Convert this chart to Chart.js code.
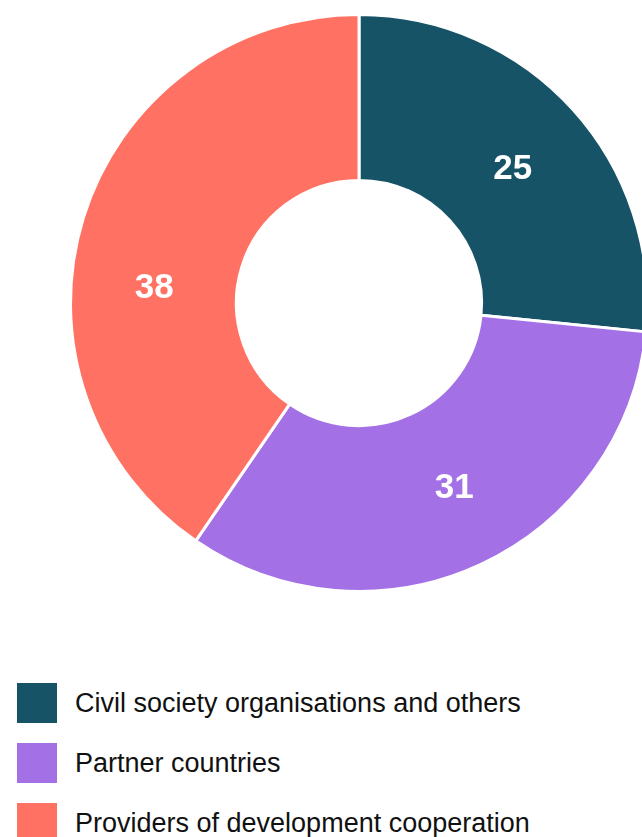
<!DOCTYPE html>
<html>
<head>
<meta charset="utf-8">
<script src="https://cdn.jsdelivr.net/npm/chart.js@4"></script>
<style>
  html, body { margin: 0; padding: 0; background: #fff; overflow: hidden; }
  body { width: 642px; height: 837px; position: relative; }
  #wrap { position: absolute; left: 0; top: 0; width: 718px; height: 606px; }
  #legend { position: absolute; left: 17px; top: 683px; font-family: "Liberation Sans", Arial, sans-serif; }
  .item { display: flex; align-items: center; height: 40px; margin-bottom: 20px; }
  .box { width: 40px; height: 40px; margin-right: 18px; flex: none; }
  .label { font-size: 27px; color: #111; white-space: nowrap; }
</style>
</head>
<body>
<div id="wrap"><canvas id="myChart" width="718" height="606"></canvas></div>
<div id="legend"></div>
<script>
  let labels = ["Civil society organisations and others", "Partner countries", "Providers of development cooperation"]
  let values = [25, 31, 38]
  let colors = ["#175366", "#a470e6", "#ff7163"]

  function buildLegend() {
    let legend = document.querySelector("#legend")
    for (let i = 0; i < labels.length; i++) {
      let item = document.createElement("div")
      item.className = "item"
      let box = document.createElement("div")
      box.className = "box"
      box.style.background = colors[i]
      let text = document.createElement("div")
      text.className = "label"
      text.textContent = labels[i]
      item.appendChild(box)
      item.appendChild(text)
      legend.appendChild(item)
    }
  }

  // writes each value inside its slice, halfway between the two radii
  const sliceLabels = {
    id: "sliceLabels",
    afterDatasetsDraw(chart, args, opts) {
      const ctx = chart.ctx
      const meta = chart.getDatasetMeta(0)
      const shift = opts.angleShift || []
      ctx.save()
      ctx.fillStyle = "#fff"
      ctx.font = "bold 35px 'Liberation Sans', Arial, sans-serif"
      ctx.textAlign = "center"
      ctx.textBaseline = "alphabetic"
      meta.data.forEach(function (arc, i) {
        const p = arc.getProps(["x", "y", "startAngle", "endAngle", "innerRadius", "outerRadius"], true)
        const angle = (p.startAngle + p.endAngle) / 2 + (shift[i] || 0) * Math.PI / 180
        const r = (p.innerRadius + p.outerRadius) / 2
        const x = p.x + Math.cos(angle) * r
        const y = p.y + Math.sin(angle) * r
        ctx.fillText(chart.data.datasets[0].data[i], x, y + 13)
      })
      ctx.restore()
    }
  }

  function drawChart() {
    const ctx = document.getElementById("myChart")
    new Chart(ctx, {
      type: "doughnut",
      data: {
        labels: labels,
        datasets: [
          {
            data: values,
            backgroundColor: colors,
            borderColor: "#fff",
            borderWidth: 3,
          },
        ],
      },
      options: {
        responsive: false,
        animation: false,
        cutout: "42.5%",
        layout: { padding: 13 },
        plugins: {
          legend: { display: false },
          tooltip: { enabled: false },
          sliceLabels: { angleShift: [0.5, -2.7, -12.3] },
        },
      },
      plugins: [sliceLabels],
    })
  }

  document.addEventListener("DOMContentLoaded", function () {
    buildLegend()
    drawChart()
  })
</script>
</body>
</html>
